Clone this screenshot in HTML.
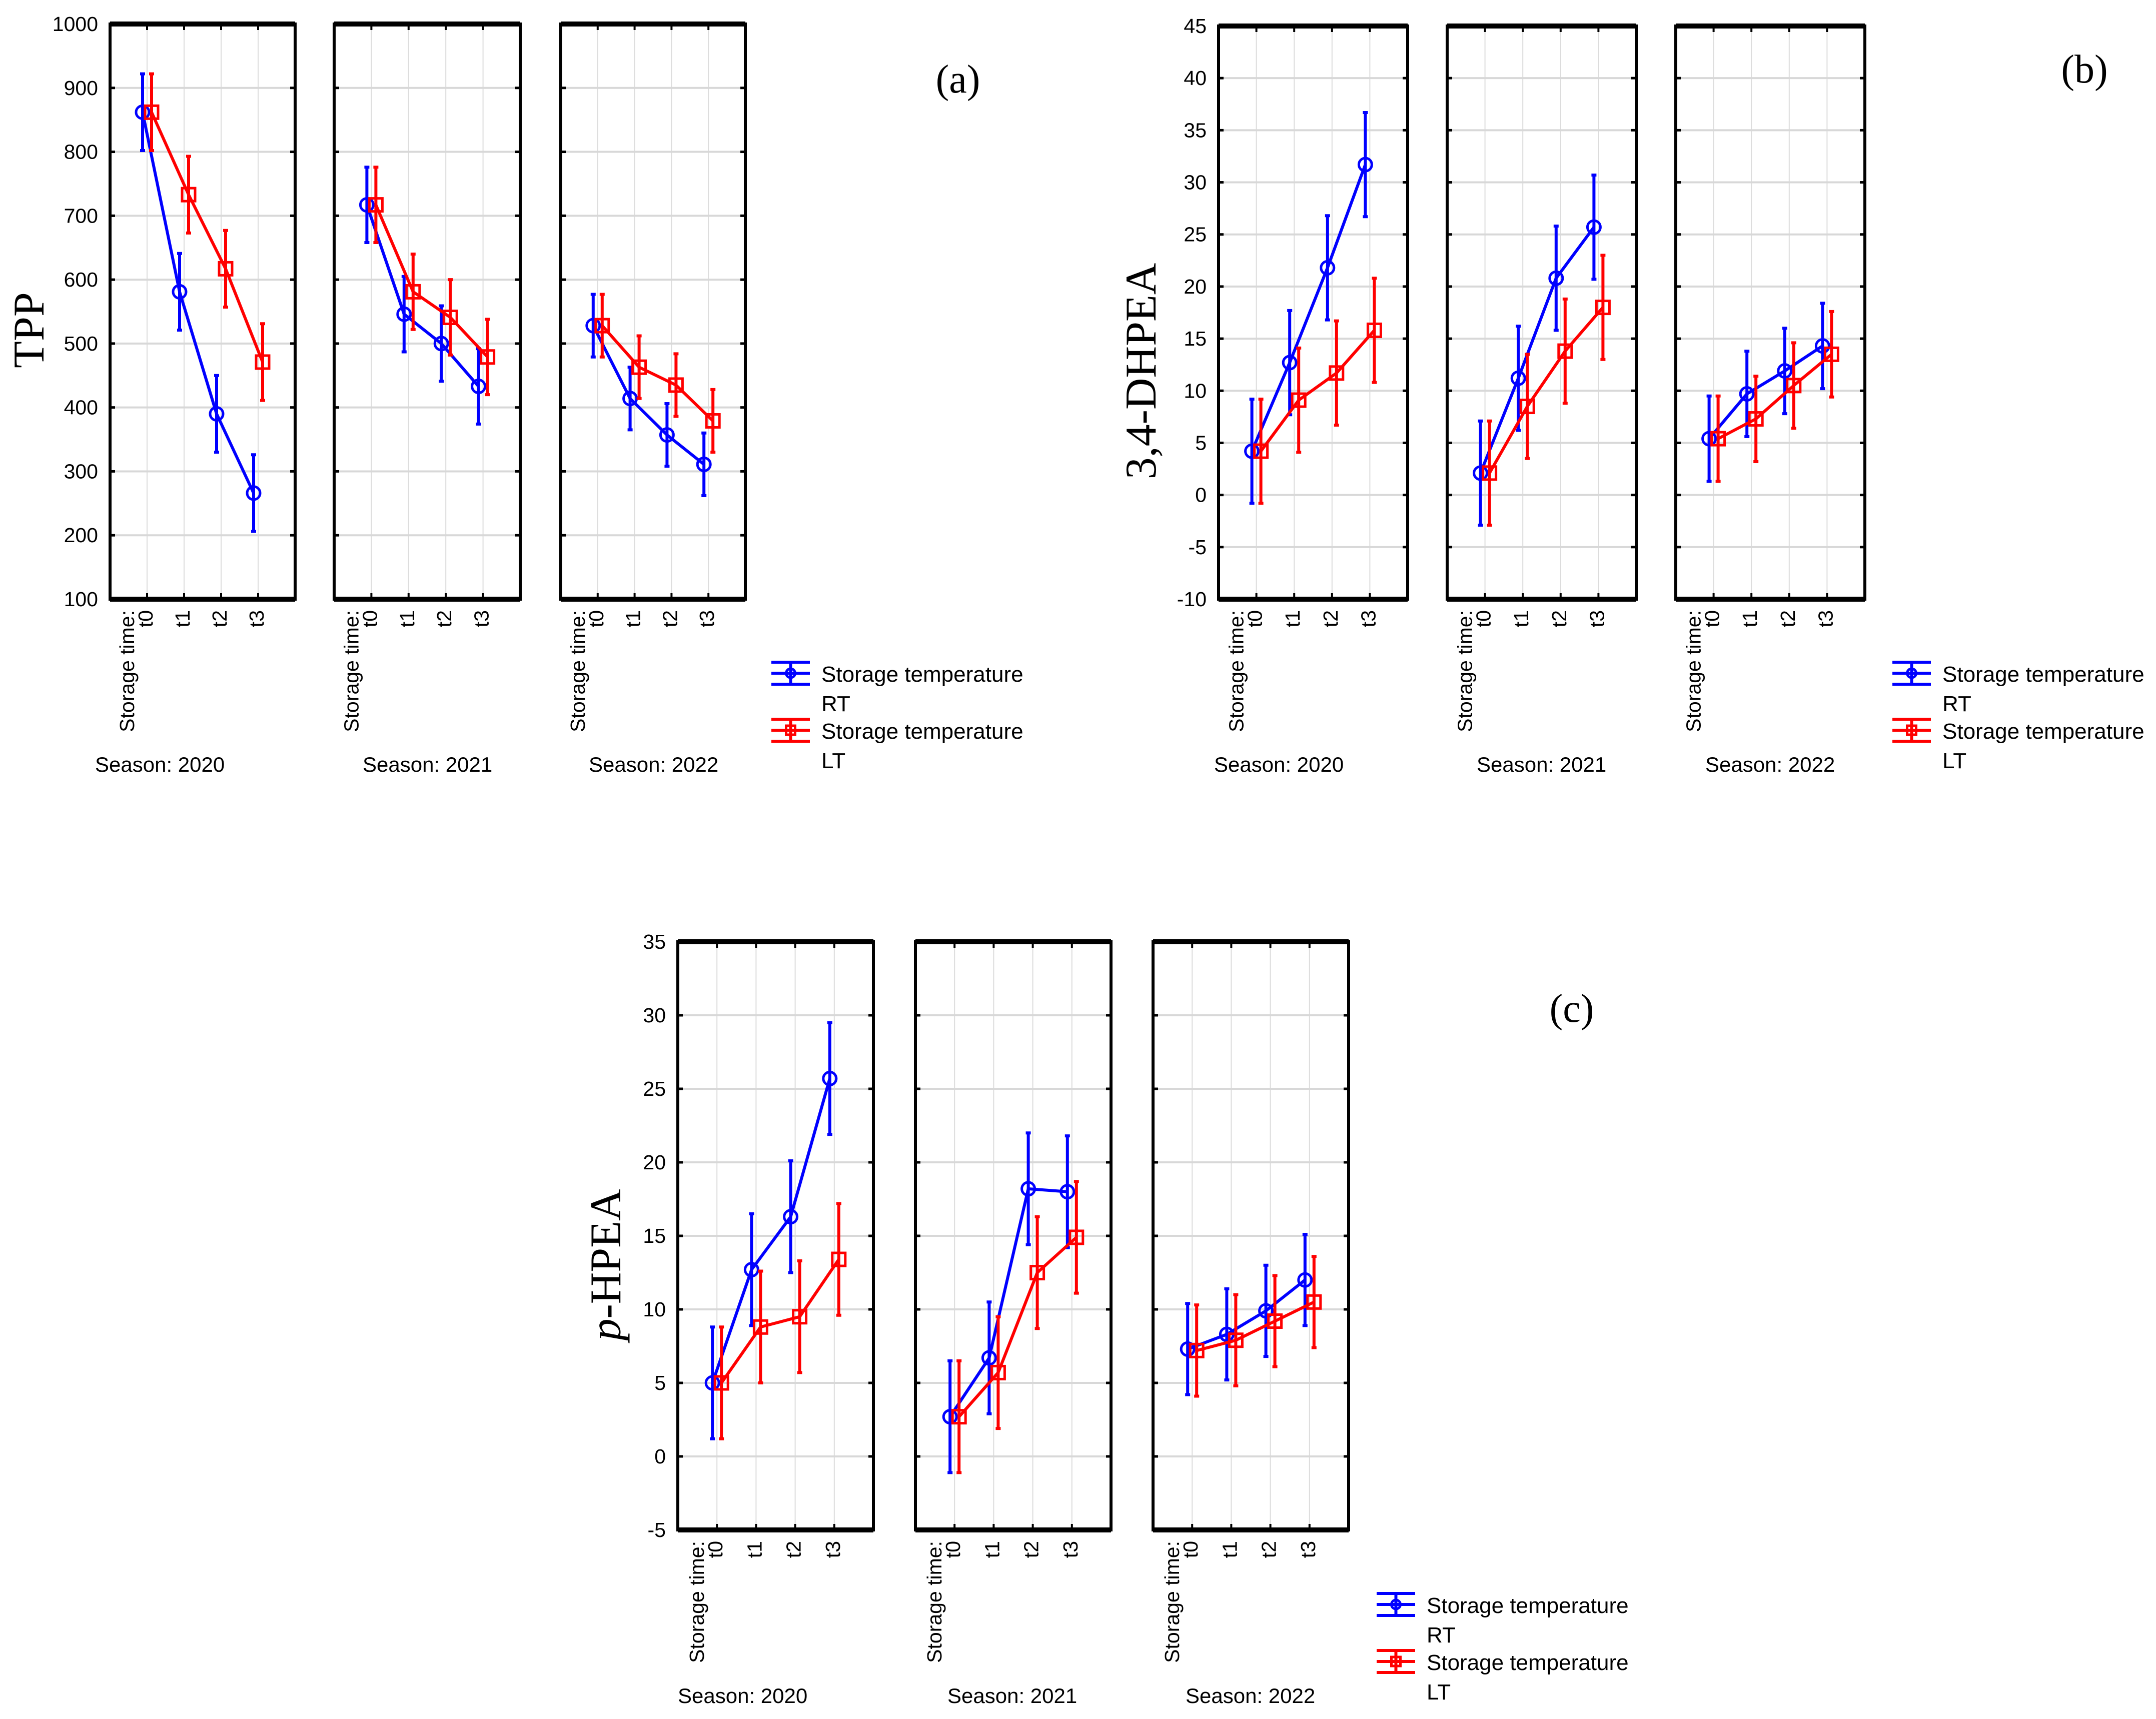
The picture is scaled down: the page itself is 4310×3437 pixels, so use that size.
<!DOCTYPE html>
<html><head><meta charset="utf-8"><style>
html,body{margin:0;padding:0;background:#fff;}
svg{display:block;}
text{font-family:"Liberation Sans",sans-serif;fill:#000;}
.serif{font-family:"Liberation Serif",serif;}
</style></head><body>
<svg id="fig" xmlns="http://www.w3.org/2000/svg" width="4310" height="3437" viewBox="0 0 4310 3437">
<rect width="4310" height="3437" fill="#fff"/>
</svg>
<script>
// ---- data ----
const categories = ["t0","t1","t2","t3"];
const seasons = ["2020","2021","2022"];
// Panel (a) TPP
const tppRT = [[862,581,390,266],[717,546,500,433],[528,414,357,311]];
const tppLT = [[862,733,617,471],[717,581,541,479],[528,463,435,379]];
const tppErr = [60,59,49];
const tppTicks = [100,200,300,400,500,600,700,800,900,1000];
// Panel (b) 3,4-DHPEA
const dhRT = [[4.2,12.7,21.8,31.7],[2.1,11.2,20.8,25.7],[5.4,9.7,11.9,14.3]];
const dhLT = [[4.2,9.1,11.7,15.8],[2.1,8.5,13.8,18.0],[5.4,7.3,10.5,13.5]];
const dhErr = [5.0,5.0,4.1];
const dhTicks = [-10,-5,0,5,10,15,20,25,30,35,40,45];
// Panel (c) p-HPEA
const hpRT = [[5.0,12.7,16.3,25.7],[2.7,6.7,18.2,18.0],[7.3,8.3,9.9,12.0]];
const hpLT = [[5.0,8.8,9.5,13.4],[2.7,5.7,12.5,14.9],[7.2,7.9,9.2,10.5]];
const hpErr = [3.8,3.8,3.1];
const hpTicks = [-5,0,5,10,15,20,25,30,35];

const NS="http://www.w3.org/2000/svg";
const svg=document.getElementById('fig');
function mk(tag,attrs,parent){const e=document.createElementNS(NS,tag);for(const k in attrs)e.setAttribute(k,attrs[k]);(parent||svg).appendChild(e);return e;}

function panel(cfg){
  const g=mk('g',{});
  
  
  const min=cfg.ticks[0], max=cfg.ticks[cfg.ticks.length-1];
  const yS=v=>cfg.yb-(v-min)/(max-min)*(cfg.yb-cfg.yt);
  cfg.boxes.forEach((bx,si)=>{
    const [x0,x1]=bx, w=x1-x0;
    const xS=i=>x0+w*(i+1)/5;
    const pg=mk('g',{},g);
    
    
    for(let k=1;k<5;k++){
      const gl=mk('line',{x1:x0+w*k/5,x2:x0+w*k/5,y1:cfg.yt,y2:cfg.yb,stroke:'#dcdcdc','stroke-width':2},pg);
      
      
    }
    cfg.ticks.forEach(t=>{
      const y=yS(t);
      const gl=mk('line',{x1:x0,x2:x1,y1:y,y2:y,stroke:'#d8d8d8','stroke-width':4},pg);
      
      
      mk('line',{x1:x0,x2:x0+10,y1:y,y2:y,stroke:'#000','stroke-width':5},pg);
      mk('line',{x1:x1-10,x2:x1,y1:y,y2:y,stroke:'#000','stroke-width':5},pg);
      if(si===0){
        const tl=mk('text',{x:x0-24,y:y+14,'text-anchor':'end','font-size':41},pg);
        tl.textContent=t;
        
        
      }
    });
    const fr=mk('rect',{x:x0,y:cfg.yt,width:w,height:cfg.yb-cfg.yt,fill:'none',stroke:'#000','stroke-width':6},pg);
    
    
    mk('line',{x1:x0,x2:x1,y1:cfg.yt,y2:cfg.yt,stroke:'#000','stroke-width':10},pg);
    mk('line',{x1:x0,x2:x1,y1:cfg.yb,y2:cfg.yb,stroke:'#000','stroke-width':10},pg);
    categories.forEach((c,i)=>{
      mk('line',{x1:xS(i),x2:xS(i),y1:cfg.yt,y2:cfg.yt+12,stroke:'#000','stroke-width':4},pg);
      mk('line',{x1:xS(i),x2:xS(i),y1:cfg.yb-12,y2:cfg.yb,stroke:'#000','stroke-width':4},pg);
      const cl=mk('text',{transform:`translate(${xS(i)+11},${cfg.yb+22}) rotate(-90)`,'text-anchor':'end','font-size':41},pg);
      cl.textContent=c;
      
      
    });
    const st=mk('text',{transform:`translate(${xS(0)-26},${cfg.yb+22}) rotate(-90)`,'text-anchor':'end','font-size':41},pg);
    st.textContent='Storage time:';
    
    
    const sl=mk('text',{x:cfg.seasonX[si],y:cfg.seasonY,'font-size':42},pg);
    sl.textContent='Season: '+seasons[si];
    
    
    [[cfg.rt,'#0000ff',-9,'circle','rt'],[cfg.lt,'#ff0000',9,'square','lt']].forEach(([data,col,off,shape,nm])=>{
      const vals=data[si], err=cfg.err[si];
      const pts=vals.map((v,i)=>(xS(i)+off)+','+yS(v)).join(' ');
      const pl=mk('polyline',{points:pts,fill:'none',stroke:col,'stroke-width':6},pg);
      
      
      vals.forEach((v,i)=>{
        const x=xS(i)+off;
        const eb=mk('path',{d:`M${x},${yS(v+err)}V${yS(v-err)}M${x-5},${yS(v+err)}h10M${x-5},${yS(v-err)}h10`,stroke:col,'stroke-width':6,fill:'none'},pg);
        
        
        let m;
        if(shape==='circle') m=mk('circle',{cx:x,cy:yS(v),r:13,fill:'none',stroke:col,'stroke-width':5},pg);
        else m=mk('rect',{x:x-13,y:yS(v)-13,width:26,height:26,fill:'none',stroke:col,'stroke-width':5},pg);
        
        
      });
    });
  });
  const yt=mk('text',{transform:`translate(${cfg.titleX},${cfg.titleY}) rotate(-90)`,'text-anchor':'middle','font-size':88,class:'serif'},g);
  if(cfg.italicP){const ts=mk('tspan',{'font-style':'italic'},yt);ts.textContent='p';const t2=mk('tspan',{},yt);t2.textContent='-HPEA';}
  else yt.textContent=cfg.title;
  
  
  const lb=mk('text',{x:cfg.labX,y:cfg.labY,'font-size':80,class:'serif','text-anchor':'middle'},g);
  lb.textContent=cfg.label;
  
  
  [['RT','#0000ff','circle',cfg.legY],['LT','#ff0000','square',cfg.legY+114]].forEach(([n,col,shape,cy])=>{
    const lg=mk('g',{},g);
    
    
    const x0=cfg.legX, x1=cfg.legX+77, xc=(x0+x1)/2;
    mk('path',{d:`M${x0},${cy-22}H${x1}M${x0},${cy}H${x1}M${x0},${cy+22}H${x1}M${xc},${cy-22}V${cy+22}`,stroke:col,'stroke-width':6,fill:'none'},lg);
    if(shape==='circle') mk('circle',{cx:xc,cy:cy,r:9,fill:'none',stroke:col,'stroke-width':5},lg);
    else mk('rect',{x:xc-9,y:cy-9,width:18,height:18,fill:'none',stroke:col,'stroke-width':5},lg);
    const t1=mk('text',{x:cfg.legX+100,y:cy+17,'font-size':44},lg);t1.textContent='Storage temperature';
    const t2=mk('text',{x:cfg.legX+100,y:cy+76,'font-size':44},lg);t2.textContent=n;
  });
}

panel({name:'tpp-panel',ticks:tppTicks,yt:48,yb:1198,boxes:[[220,590],[668,1040],[1121,1490]],
  rt:tppRT,lt:tppLT,err:tppErr,seasonX:[190,725,1177],seasonY:1543,title:'TPP',titleX:87,titleY:660,
  label:'(a)',labX:1915,labY:185,legX:1542,legY:1346});
panel({name:'dhpea-panel',ticks:dhTicks,yt:52,yb:1198,boxes:[[2436,2814],[2893,3271],[3350,3728]],
  rt:dhRT,lt:dhLT,err:dhErr,seasonX:[2427,2952,3409],seasonY:1543,title:'3,4-DHPEA',titleX:2310,titleY:742,
  label:'(b)',labX:4167,labY:165,legX:3783,legY:1346});
panel({name:'phpea-panel',ticks:hpTicks,yt:1883,yb:3059,boxes:[[1355,1746],[1830,2221],[2305,2696]],
  rt:hpRT,lt:hpLT,err:hpErr,seasonX:[1355,1894,2370],seasonY:3405,italicP:true,titleX:1240,titleY:2529,
  label:'(c)',labX:3142,labY:2043,legX:2752,legY:3208});
</script>
</body></html>
